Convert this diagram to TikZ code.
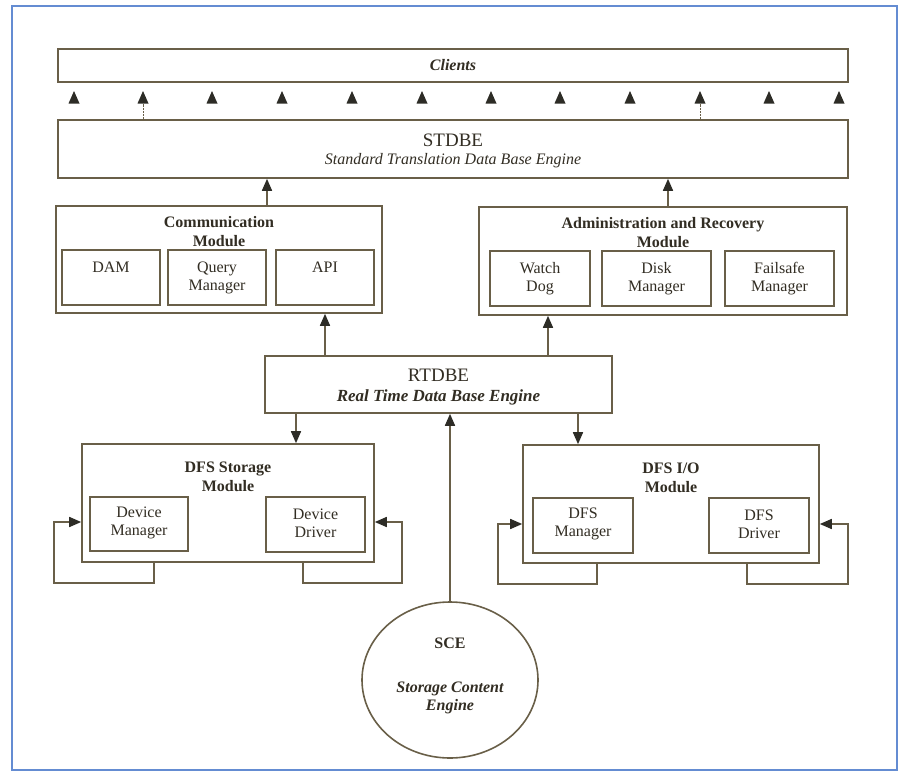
\documentclass[tikz,border=0pt]{standalone}
\usepackage{fontspec}
\setmainfont{Liberation Serif}
\usetikzlibrary{arrows.meta,shapes.geometric}
\definecolor{lncol}{RGB}{105,95,72}
\definecolor{txtcol}{RGB}{50,45,35}
\definecolor{tipcol}{RGB}{45,44,38}
\definecolor{framecol}{RGB}{100,140,210}
\newcommand{\fsz}[1]{\fontsize{#1}{#1}\selectfont}
\tikzset{
  ln/.style={draw=lncol, line width=1.6pt},
  box/.style={ln, rectangle, inner sep=0pt, fill=white},
  txt/.style={text=txtcol, inner sep=0pt, align=center, font=\fsz{16}},
  ttl/.style={txt, font=\fsz{16}\bfseries},
  big/.style={txt, font=\fsz{19}},
  arr/.style={draw=lncol, line width=1.6pt, -{Triangle[width=10pt,length=12pt,color=tipcol]}},
  trifill/.style={fill=tipcol},
  thinln/.style={draw=lncol, line width=0.7pt, dash pattern=on 2pt off 1pt}
}
\begin{document}
\begin{tikzpicture}[x=1pt,y=-1pt]
\useasboundingbox (0,0) rectangle (904,771);
\draw[framecol, line width=2pt] (12,6) rectangle (897,770);

% Clients and STDBE
\node[box, minimum width=790pt, minimum height=33pt] (clients) at (453,65.5) {};
\node[txt, font=\fsz{16}\bfseries\itshape] (clientsT) at (453,65.5) {Clients};
\foreach \i/\x in {1/74,2/143,3/212,4/282,5/352,6/422,7/491,8/560,9/630,10/700,11/769,12/839}{
  \coordinate (t\i) at (\x,103.5);
  \fill[trifill] (t\i) ++(-5.5,0) -- ++(11,0) -- ++(-5.5,-12.5) -- cycle;
}
\node[box, minimum width=790pt, minimum height=58pt] (stdbe) at (453,149) {};
\node[big] (stdbeT) at (453,140) {STDBE};
\node[txt, font=\fsz{16}\itshape] (stdbeS) at (453,161) {Standard Translation Data Base Engine};
\draw[thinln] (143,0 |- stdbe.north) -- (t2);
\draw[thinln] (700,0 |- stdbe.north) -- (t10);

% Communication module
\node[box, minimum width=326pt, minimum height=107pt] (comm) at (219,259.5) {};
\node[ttl] (commT) at (219,231.5) {Communication\\[3pt]Module};
\node[box, minimum width=98pt, minimum height=55pt] (dam) at (111,277.5) {};
\node[txt] (damT) at (111,267) {DAM};
\node[box, minimum width=98pt, minimum height=55pt] (query) at (217,277.5) {};
\node[txt] (queryT) at (217,278) {Query\\[2pt]Manager};
\node[box, minimum width=98pt, minimum height=55pt] (api) at (325,277.5) {};
\node[txt] (apiT) at (325,267) {API};

% Administration module
\node[box, minimum width=368pt, minimum height=108pt] (admin) at (663,261) {};
\node[ttl] (adminT) at (663,233) {Administration and Recovery\\[3pt]Module};
\node[box, minimum width=100pt, minimum height=55pt] (watch) at (540,278.5) {};
\node[txt] (watchT) at (540,278.5) {Watch\\[2pt]Dog};
\node[box, minimum width=109pt, minimum height=55pt] (disk) at (656.5,278.5) {};
\node[txt] (diskT) at (656.5,278.5) {Disk\\[2pt]Manager};
\node[box, minimum width=109pt, minimum height=55pt] (fail) at (779.5,278.5) {};
\node[txt] (failT) at (779.5,278.5) {Failsafe\\[2pt]Manager};

\draw[arr] (267,0 |- comm.north) -- (267,0 |- stdbe.south);
\draw[arr] (668,0 |- admin.north) -- (668,0 |- stdbe.south);

% RTDBE
\node[box, minimum width=347pt, minimum height=57pt] (rtdbe) at (438.5,384.5) {};
\node[big] (rtdbeT) at (438.5,375) {RTDBE};
\node[txt, font=\fsz{17}\bfseries\itshape] (rtdbeS) at (438.5,397) {Real Time Data Base Engine};
\draw[arr] (325,0 |- rtdbe.north) -- (325,0 |- comm.south);
\draw[arr] (548,0 |- rtdbe.north) -- (548,0 |- admin.south);

% DFS Storage module
\node[box, minimum width=292pt, minimum height=118pt] (dfss) at (228,503) {};
\node[ttl] (dfssT) at (228,476.5) {DFS Storage\\[3pt]Module};
\node[box, minimum width=98pt, minimum height=54pt] (devmgr) at (139,524) {};
\node[txt] (devmgrT) at (139,523) {Device\\[2pt]Manager};
\node[box, minimum width=99pt, minimum height=55pt] (devdrv) at (315.5,524.5) {};
\node[txt] (devdrvT) at (315.5,523) {Device\\[2pt]Driver};

% DFS I/O module
\node[box, minimum width=296pt, minimum height=118pt] (dfsio) at (671,504) {};
\node[ttl] (dfsioT) at (671,477.5) {DFS I/O\\[3pt]Module};
\node[box, minimum width=100pt, minimum height=55pt] (dfsmgr) at (583,525.5) {};
\node[txt] (dfsmgrT) at (583,524) {DFS\\[2pt]Manager};
\node[box, minimum width=100pt, minimum height=55pt] (dfsdrv) at (759,525.5) {};
\node[txt] (dfsdrvT) at (759,524) {DFS\\[2pt]Driver};

\draw[arr] (296,0 |- rtdbe.south) -- (296,0 |- dfss.north);
\draw[arr] (578,0 |- rtdbe.south) -- (578,0 |- dfsio.north);

% feedback loops
\draw[arr] (154,0 |- dfss.south) -- (154,583) -- (54,583) -- (54,522) -- (dfss.west |- 0,522);
\draw[arr] (303,0 |- dfss.south) -- (303,583) -- (402,583) -- (402,522) -- (dfss.east |- 0,522);
\draw[arr] (597,0 |- dfsio.south) -- (597,584) -- (498,584) -- (498,524) -- (dfsio.west |- 0,524);
\draw[arr] (747,0 |- dfsio.south) -- (747,584) -- (848,584) -- (848,524) -- (dfsio.east |- 0,524);

% SCE
\node[ln, ellipse, minimum width=176pt, minimum height=156pt, inner sep=0pt] (sce) at (450,680) {};
\node[txt, font=\fsz{16}\bfseries] (sceT) at (450,643) {SCE};
\node[txt, font=\fsz{16}\bfseries\itshape] (sceS) at (450,698) {Storage Content\\[2pt]Engine};
\draw[arr] (sce.north) -- (sce.north |- rtdbe.south);
\end{tikzpicture}
\end{document}
